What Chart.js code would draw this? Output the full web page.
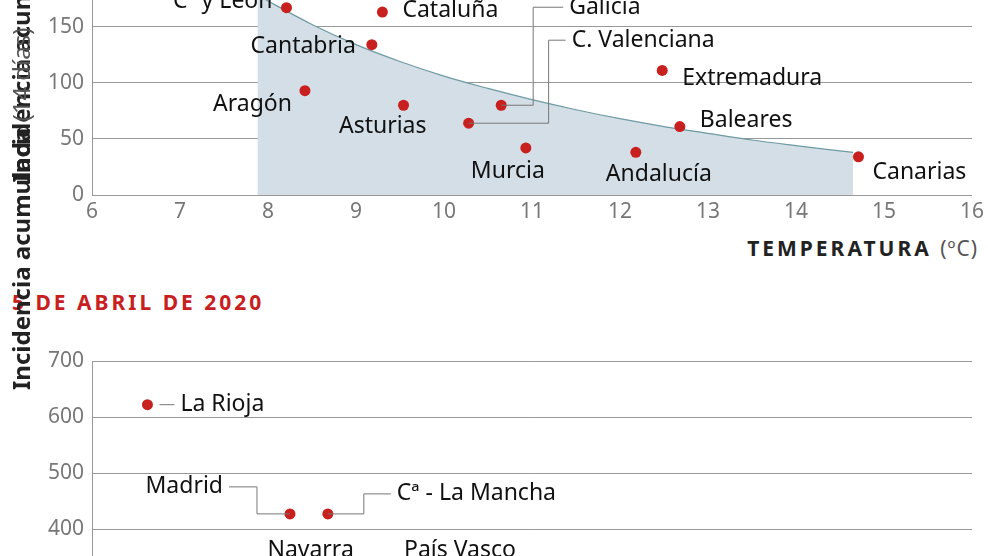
<!DOCTYPE html>
<html><head><meta charset="utf-8">
<script src="https://cdn.jsdelivr.net/npm/chart.js@4"></script>
<style>
body{margin:0;width:988px;height:556px;overflow:hidden;background:#fff;position:relative;font-family:"Noto Sans",sans-serif}
#c1w{position:absolute;left:0;top:-50px;width:988px;height:280px}
#c2w{position:absolute;left:0;top:340px;width:988px;height:280px}
.t{position:absolute;white-space:nowrap}
.yt{position:absolute;left:4px;writing-mode:vertical-rl;transform:rotate(180deg);font-size:24px;color:#222;white-space:nowrap}
</style></head><body>
<div id="c1w"><canvas id="c1"></canvas></div>
<div id="c2w"><canvas id="c2"></canvas></div>
<div class="t" style="right:10px;top:234px;font-size:21px;font-weight:bold;letter-spacing:3px;color:#222">TEMPERATURA <span style="font-weight:normal;letter-spacing:1px;color:#555">(ºC)</span></div>
<div class="t" style="left:12px;top:288px;font-size:21px;font-weight:bold;letter-spacing:3px;color:#c8201e">5 DE ABRIL DE 2020</div>
<div class="yt" style="bottom:374px"><b>Incidencia acumulada</b> <span style="color:#555">(14 días)</span></div>
<div class="yt" style="top:-42px;height:432px;display:flex;justify-content:flex-start"><span><b>Incidencia acumulada</b> <span style="color:#555">(14 días)</span></span></div>
<script>
// marzo (panel superior)
const regiones1 = ["Cª y León","Cataluña","Cantabria","Aragón","Asturias","C. Valenciana","Galicia","Murcia","Andalucía","Extremadura","Baleares","Canarias"];
const temp1 = [8.21, 9.3, 9.18, 8.42, 9.54, 10.28, 10.65, 10.93, 12.18, 12.48, 12.68, 14.71];
const inc1 = [167, 163, 134, 93, 80, 64, 80, 42, 38, 111, 61, 34];
const curvaX = [7.88, 8.5, 9, 9.5, 10, 10.5, 11, 11.5, 12, 12.5, 13, 13.5, 14, 14.65];
const curvaY = [178, 152, 134, 119, 106, 95, 85, 76, 68, 61, 55, 49, 44, 38];
// 5 de abril (panel inferior)
const regiones2 = ["La Rioja","Madrid","Cª - La Mancha","Navarra","País Vasco"];
const temp2 = [6.63, 8.25, 8.68, 8.3, 9.0];
const inc2 = [622, 427, 427, 330, 330];
const xTicks = [6,7,8,9,10,11,12,13,14,15,16];

// etiqueta: [dx, dy, align, conector] relativa al punto
const etq1 = [[-14,-6,"right"],[20,-2,"left"],[-16,2,"right"],[-13,14,"right"],[23,21,"right"],
  [0,0,"left",[[0,0],[80,0],[80,-83],[97,-83]]],[0,0,"left",[[0,0],[32,0],[32,-98],[62,-98]]],
  [-55,24,"left"],[-30,22,"left"],[20,8,"left"],[20,-6,"left"],[14,16,"left"]];
const etq2 = [[40,-2,"left",[[12,0],[27,0]]],[0,0,"left",[[0,0],[-33,0],[-33,-27],[-61,-27]]],
  [0,0,"left",[[0,0],[36,0],[36,-20],[63,-20]]],[-27,-18,"left"],[48,-18,"left"]];

function labelsPlugin(names, etq){
  return {id:"lbl", afterDatasetsDraw(chart){
    const ctx = chart.ctx, meta = chart.getDatasetMeta(1);
    ctx.save();
    ctx.font = "23px 'Noto Sans'"; ctx.fillStyle = "#111"; ctx.textBaseline = "middle";
    meta.data.forEach((p,i)=>{
      const e = etq[i]; let tx = p.x+e[0], ty = p.y+e[1], al = e[2];
      if(e[3]){
        ctx.strokeStyle = "#777"; ctx.lineWidth = 1; ctx.beginPath();
        e[3].forEach((q,j)=> j? ctx.lineTo(p.x+q[0],p.y+q[1]) : ctx.moveTo(p.x+q[0],p.y+q[1]));
        ctx.stroke();
        const last = e[3][e[3].length-1];
        if(last[0] < 0){ tx = p.x+last[0]-6; al="right"; } else { tx = p.x+last[0]+6; }
        ty = p.y+last[1];
      }
      ctx.textAlign = al; ctx.fillText(names[i], tx, ty);
    });
    ctx.restore();
  }};
}

function fixAxes(h){
  return {
    x:{type:"linear",min:6,max:16,afterBuildTicks:a=>{a.ticks=xTicks.map(v=>({value:v}));},
       grid:{display:false,drawTicks:false},border:{color:"#999"},
       ticks:{color:"#777",font:{size:21,family:"Noto Sans"},padding:4},
       afterFit:a=>{a.height=h;}},
  };
}

const ax1 = fixAxes(35);
ax1.y = {min:0,max:200,ticks:{stepSize:50,color:"#777",font:{size:21,family:"Noto Sans"},padding:8},
  grid:{color:"#999",drawTicks:false},border:{color:"#999"},afterFit:a=>{a.width=82;}};
new Chart(document.getElementById("c1"),{
  type:"scatter",
  data:{datasets:[
    {type:"line",order:2,data:curvaX.map((x,i)=>({x:x,y:curvaY[i]})),borderColor:"#6e9aa3",borderWidth:1.2,
     backgroundColor:"#d3dee6",fill:"origin",pointRadius:0,tension:0.4},
    {order:1,data:temp1.map((x,i)=>({x:x,y:inc1[i]})),backgroundColor:"#c8201e",pointRadius:5.5,borderWidth:0}
  ]},
  options:{responsive:true,maintainAspectRatio:false,animation:false,
    layout:{padding:{top:10,right:13,left:10}},
    plugins:{legend:{display:false},tooltip:{enabled:false}},scales:ax1},
  plugins:[labelsPlugin(regiones1,etq1)]
});

const ax2 = fixAxes(35);
ax2.y = {min:300,max:700,ticks:{stepSize:100,color:"#777",font:{size:21,family:"Noto Sans"},padding:8},
  grid:{color:"#999",drawTicks:false},border:{color:"#999"},afterFit:a=>{a.width=82;}};
new Chart(document.getElementById("c2"),{
  type:"scatter",
  data:{datasets:[
    {data:[]},
    {data:temp2.map((x,i)=>({x:x,y:inc2[i]})),backgroundColor:"#c8201e",pointRadius:5.5,borderWidth:0}
  ]},
  options:{responsive:true,maintainAspectRatio:false,animation:false,
    layout:{padding:{top:21,right:13,left:10}},
    plugins:{legend:{display:false},tooltip:{enabled:false}},scales:ax2},
  plugins:[labelsPlugin(regiones2,etq2)]
});
</script>
</body></html>
